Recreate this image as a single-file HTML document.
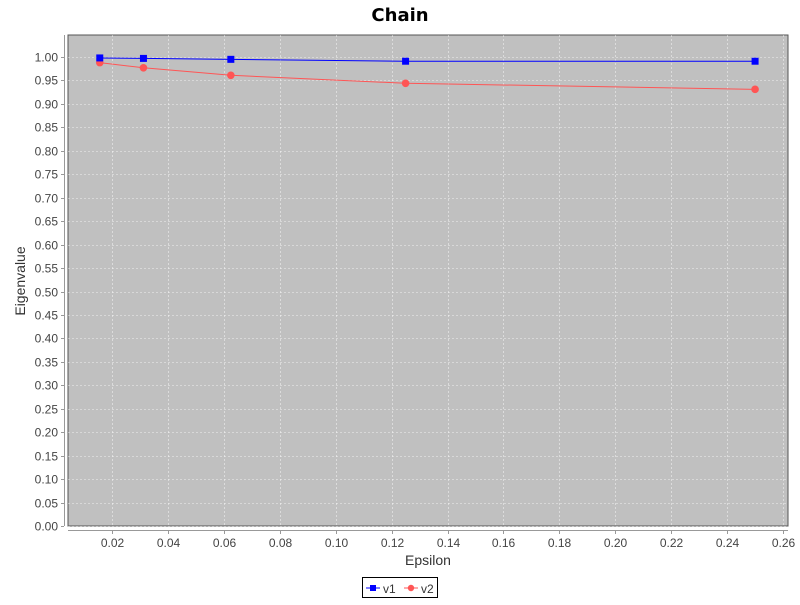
<!DOCTYPE html>
<html><head><meta charset="utf-8"><style>
body{margin:0;background:#fff;}
svg text{font-family:"Liberation Sans",sans-serif;}
</style></head><body>
<svg id="c" width="800" height="600" xmlns="http://www.w3.org/2000/svg">
<text x="400" y="21" text-anchor="middle" font-size="18" font-weight="bold" fill="#000" style="font-family:'DejaVu Sans',sans-serif">Chain</text>
<rect x="68" y="35" width="720" height="491" fill="#c0c0c0" stroke="#555" stroke-width="1"/>
<g id="grid"></g>
<g id="axes"></g>
<g id="series"></g>
<text x="428" y="565" text-anchor="middle" font-size="14" fill="#333">Epsilon</text>
<text transform="translate(25,281) rotate(-90)" text-anchor="middle" font-size="14" fill="#333">Eigenvalue</text>
<g>
<rect x="362.5" y="577.5" width="75" height="20" fill="#fff" stroke="#000"/>
<g>
<line x1="366" y1="588" x2="380" y2="588" stroke="#0000ff"/><rect x="370" y="585" width="6" height="6" fill="#0000ff"/>
<text x="383" y="593" font-size="12" fill="#333">v1</text></g>
<g>
<line x1="404" y1="588" x2="418" y2="588" stroke="#ff5555"/><circle cx="411" cy="588" r="3.2" fill="#ff5555"/>
<text x="421" y="593" font-size="12" fill="#333">v2</text></g>
</g>
</svg>
<script>
const xValues=[0.015625,0.03125,0.0625,0.125,0.25];
const v1Values=[0.998,0.997,0.995,0.991,0.991];
const v2Values=[0.988,0.977,0.961,0.944,0.931];
const xTicks=[0.02,0.04,0.06,0.08,0.10,0.12,0.14,0.16,0.18,0.20,0.22,0.24,0.26];
const yTicks=[0,0.05,0.1,0.15,0.2,0.25,0.3,0.35,0.4,0.45,0.5,0.55,0.6,0.65,0.7,0.75,0.8,0.85,0.9,0.95,1.0];
const NS="http://www.w3.org/2000/svg";
function X(v){return 112+(v-0.02)*2796;}
function Y(v){return 526-v*469;}
function mk(t,a,p){const e=document.createElementNS(NS,t);for(const k in a)e.setAttribute(k,a[k]);p.appendChild(e);return e;}
const grid=document.getElementById('grid'),axes=document.getElementById('axes'),ser=document.getElementById('series');
mk('line',{x1:64.5,y1:35,x2:64.5,y2:526,stroke:'#999'},axes);
mk('line',{x1:68,y1:530.5,x2:788,y2:530.5,stroke:'#999'},axes);
yTicks.forEach(v=>{const y=Math.round(Y(v))+0.5;
 const g=mk('line',{x1:68,y1:y,x2:788,y2:y,stroke:'#fff','stroke-dasharray':'2,2','stroke-width':0.6,'stroke-opacity':0.75},grid);
 
 
 mk('line',{x1:61,y1:y,x2:64,y2:y,stroke:'#999'},axes);
 const t=mk('text',{x:58,y:y+4,'text-anchor':'end','font-size':12,fill:'#444'},axes);t.textContent=v.toFixed(2);
 
 });
xTicks.forEach(v=>{const x=Math.round(X(v))+0.5;
 const g=mk('line',{x1:x,y1:35,x2:x,y2:526,stroke:'#fff','stroke-dasharray':'2,2','stroke-width':0.6,'stroke-opacity':0.75},grid);
 
 
 mk('line',{x1:x,y1:531,x2:x,y2:534,stroke:'#999'},axes);
 const t=mk('text',{x:x,y:547,'text-anchor':'middle','font-size':12,fill:'#444'},axes);t.textContent=v.toFixed(2);
 
 });
function draw(vals,color,shape,name){
 const pts=xValues.map((x,i)=>X(x)+','+Y(vals[i])).join(' ');
 const l=mk('polyline',{points:pts,fill:'none',stroke:color,'stroke-width':1},ser);
 
 
 xValues.forEach((x,i)=>{let m;
  if(shape==='sq')m=mk('rect',{x:X(x)-3.5,y:Y(vals[i])-3.5,width:7,height:7,fill:color},ser);
  else m=mk('circle',{cx:X(x),cy:Y(vals[i]),r:3.8,fill:color},ser);
  
  });
}
draw(v2Values,'#ff5555','ci','v2');
draw(v1Values,'#0000ff','sq','v1');
</script>
</body></html>
